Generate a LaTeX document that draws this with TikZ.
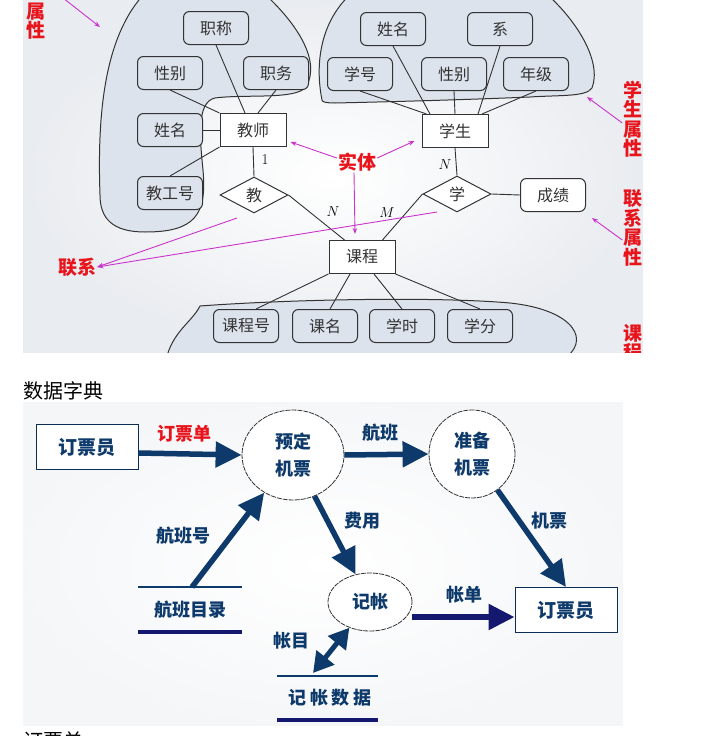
\documentclass[tikz,border=0pt]{standalone}
\usepackage{fontspec}
\newfontfamily\cjk{Noto Sans CJK SC}
\usepackage{xcolor}
\usepackage{tikz}
\usetikzlibrary{arrows.meta,shapes.geometric}
\definecolor{redx}{HTML}{E8141C}
\definecolor{magx}{HTML}{CC33CC}
\definecolor{navyx}{HTML}{0E3A6B}
\definecolor{navyb}{HTML}{14186E}
\definecolor{inkx}{HTML}{333333}
\definecolor{blobx}{HTML}{DDE3EC}
\definecolor{bgx}{HTML}{E9ECF0}
\tikzset{
  blob/.style={draw=inkx,line width=1pt,fill=blobx},
  attr/.style={draw=inkx,line width=1pt,rounded corners=6pt,fill=blobx,minimum width=65pt,minimum height=33pt,inner sep=1pt,font=\cjk\fontsize{16}{16}\selectfont,text=black!80},
  ent/.style={draw=inkx,line width=1pt,fill=white,minimum width=66pt,minimum height=33pt,inner sep=1pt,font=\cjk\fontsize{16}{16}\selectfont,text=black!80},
  rel/.style={diamond,draw=inkx,line width=1pt,fill=white,minimum width=68pt,minimum height=36pt,inner sep=0pt,font=\cjk\fontsize{16}{16}\selectfont,text=black!80},
  ln/.style={inkx,line width=0.9pt},
  nm/.style={font=\fontsize{15}{15}\selectfont,inner sep=0pt},
  note/.style={text=redx,font=\cjk\bfseries\fontsize{19}{19.5}\selectfont,align=center,inner sep=1pt},
  ann/.style={-{Stealth[length=6pt,width=4.5pt]},magx,line width=0.9pt},
  ext/.style={draw=navyx!80!black,line width=1pt,fill=white,minimum width=102pt,minimum height=45pt,font=\cjk\bfseries\fontsize{19}{19}\selectfont,text=navyx},
  proc/.style={ellipse,draw=inkx,line width=0.8pt,dash pattern=on 5pt off 1pt,fill=white,inner sep=0pt,align=center,font=\cjk\bfseries\fontsize{18}{27}\selectfont,text=navyx},
  flow/.style={-{Triangle[length=26pt,width=25pt]},line width=5.5pt,navyx},
  dlbl/.style={font=\cjk\bfseries\fontsize{18}{18}\selectfont,text=navyx,inner sep=1pt},
  store/.style={line width=2pt,navyx}
}
\begin{document}
\begin{tikzpicture}[x=1pt,y=-1pt]
\useasboundingbox (0,0) rectangle (714,736);
% E-R diagram
\begin{scope}
\clip (23,0) rectangle (643,352);
\shade[inner color=white,outer color=bgx] (23,0) rectangle (643,352);
% attribute groups
\draw[blob] (100,195) .. controls (97,110) and (105,30) .. (150,-12) -- (258,-12) .. controls (295,20) and (322,60) .. (306,87) .. controls (296,100) and (245,94) .. (215,98) .. controls (196,102) and (200,140) .. (203,170) .. controls (207,215) and (195,232) .. (145,232) .. controls (112,232) and (100,218) .. (100,195) -- cycle;
\draw[blob] (322,100) .. controls (314,60) and (322,15) .. (358,-12) -- (540,-12) .. controls (578,20) and (602,62) .. (592,88) .. controls (586,97) and (560,95) .. (530,97) .. controls (460,100) and (380,102) .. (335,103) .. controls (326,103) and (322,102) .. (322,100) -- cycle;
\draw[blob] (166,360) .. controls (172,332) and (192,322) .. (200,306) .. controls (280,300) and (430,296) .. (510,303) .. controls (576,310) and (592,342) .. (562,360) -- cycle;
% teacher
\node[attr] (zc) at (216,28) {职称};
\node[attr] (xb1) at (170,73) {性别};
\node[attr] (zw) at (276,73) {职务};
\node[attr] (xm1) at (170,130) {姓名};
\node[attr] (gh) at (170,193) {教工号};
\node[ent] (js) at (253,130) {教师};
\node[rel] (jiao) at (254,195) {教};
\draw[ln] (xb1.south) -- (js.north west);
\draw[ln] (zc.south) -- ([xshift=-8pt]js.north);
\draw[ln] (zw.south) -- ([xshift=5pt]js.north);
\draw[ln] (xm1) -- (js);
\draw[ln] (gh.north) -- (js.south west);
\draw[ln] (js.south) -- (jiao.north);
% student
\node[attr] (xm2) at (393,29) {姓名};
\node[attr] (xi) at (500,29) {系};
\node[attr] (xh) at (360,74) {学号};
\node[attr] (xb2) at (454,74) {性别};
\node[attr] (nj) at (536,74) {年级};
\node[ent] (xs) at (455,131) {学生};
\node[rel] (xue) at (457,194) {学};
\node[attr,fill=white] (cj) at (553,195) {成绩};
\draw[ln] (xh.south) -- ([xshift=5pt]xs.north west);
\draw[ln] (xm2.south) -- ([xshift=-25pt]xs.north);
\draw[ln] (xb2.south) -- (xs.north);
\draw[ln] (xi.south) -- ([xshift=23pt]xs.north);
\draw[ln] (nj.south) -- ([xshift=27pt]xs.north);
\draw[ln] (xs.south) -- (xue.north);
\draw[ln] (xue.east) -- (cj.west);
% course
\node[ent] (kc) at (362,257) {课程};
\foreach \xx/\n/\t in {246/kch/课程号,325/km/课名,402/xsh/学时,480/xf/学分}{\node[attr] (\n) at (\xx,326) {\t};}
\draw[ln] (jiao.east) -- ([xshift=16pt]kc.north west);
\draw[ln] (xue.west) -- ([xshift=-13pt]kc.north east);
\draw[ln] (kc.south west) -- ([xshift=10pt]kch.north);
\draw[ln] ([xshift=-12pt]kc.south) -- ([xshift=5pt]km.north);
\draw[ln] ([xshift=12pt]kc.south) -- (xsh.north);
\draw[ln] (kc.south east) -- (xf.north);
\node[nm] (n1) at (265,160) {1};
\node[nm] (n2) at (333,212) {$N$};
\node[nm] (n3) at (445,165) {$N$};
\node[nm] (n4) at (387,213) {$M$};
% notes
\node[note] (sx1) at (36,21) {属\\性};
\node[note] (st) at (357,162) {实体};
\node[note] (lx) at (77,267) {联系};
\node[note] (xssx) at (633,119) {学\\生\\属\\性};
\node[note] (lxsx) at (633,228) {联\\系\\属\\性};
\node[note] (kcl) at (633,343) {课\\程};
\coordinate (a0) at (63,-2);
\coordinate (a0t) at (100,27);
\coordinate (c1) at (237,218);
\coordinate (c2) at (437,212);
\coordinate (a3t) at (587,97);
\coordinate (a4t) at (592,218);
\draw[ann] (a0) -- (a0t);
\draw[ann] ([yshift=4pt]st.west) -- ([xshift=4pt,yshift=5pt]js.south east);
\draw[ann] ([yshift=4pt]st.east) -- ([xshift=-7pt,yshift=7pt]xs.south west);
\draw[ann] ([xshift=-3pt]st.south) -- ([xshift=-7pt,yshift=6pt]kc.north);
\draw[ann] (c1) -- (lx.east);
\draw[ann] (c2) -- (lx.east);
\draw[ann] ([yshift=-4pt]xssx.west) -- (a3t);
\draw[ann] ([yshift=-12pt]lxsx.west) -- (a4t);
\end{scope}
\node[font=\cjk\fontsize{20}{20}\selectfont,anchor=west,inner sep=0pt] (sjzd) at (23,391) {数据字典};
% data flow diagram
\shade[inner color=white,outer color=bgx!45] (23,402) rectangle (623,725);
\node[ext] (dpy1) at (87,447) {订票员};
\node[proc,minimum width=102pt,minimum height=90pt] (yd) at (293,455) {预定\\机票};
\node[proc,minimum width=86pt,minimum height=88pt] (zb) at (472,454) {准备\\机票};
\node[proc,minimum width=84pt,minimum height=58pt] (jz) at (370,602) {记帐};
\node[ext] (dpy2) at (566,610) {订票员};
\node[dlbl] (hbml) at (190,610) {航班目录};
\node[dlbl] (jzsj) at (330,698) {记\hspace{4pt}帐\hspace{4pt}数\hspace{4pt}据};
\draw[store] (138,587) -- (242,587);
\draw[store,line width=3.5pt,navyb] (138,632) -- (242,632);
\draw[store] (277,676) -- (378,676);
\draw[store,line width=3.5pt,navyb] (277,720) -- (378,720);
\coordinate (hb) at (192,587);
\coordinate (js1) at (313,673);
\draw[flow] ([yshift=-6pt]dpy1.east) -- (yd.west);
\draw[flow] (yd.east) -- (zb.west);
\draw[flow] (hb) -- (yd);
\draw[flow] (yd) -- (jz);
\draw[flow] (zb) -- (dpy2.north);
\draw[flow,navyb] ([yshift=-15pt]jz.east) -- ([yshift=-7pt]dpy2.west);
\draw[{Triangle[length=20pt,width=22pt]}-{Triangle[length=20pt,width=22pt]},line width=5pt,navyx] (js1) -- (jz);
\node[dlbl,text=redx] (dpd) at (184,434) {订票单};
\node[dlbl] (hbl) at (380,433) {航班};
\node[dlbl] (hbh) at (183,536) {航班号};
\node[dlbl] (fy) at (362,521) {费用};
\node[dlbl] (jp) at (549,521) {机票};
\node[dlbl] (zd) at (464,595) {帐单};
\node[dlbl] (zm) at (291,641) {帐目};
\node[font=\cjk\fontsize{20}{20}\selectfont,anchor=west,inner sep=0pt] (dpdb) at (23,741) {订票单};
\end{tikzpicture}
\end{document}
